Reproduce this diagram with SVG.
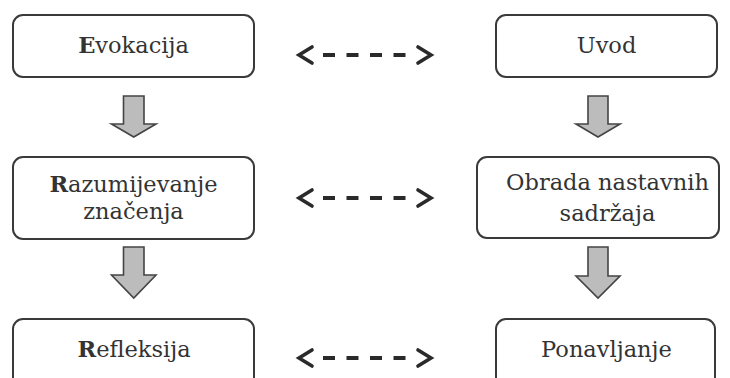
<svg xmlns="http://www.w3.org/2000/svg" width="730" height="378" viewBox="0 0 730 378">
<defs>
<style>
.box{fill:#fff;stroke:#3a3a3a;stroke-width:2}
.down{fill:#bcbcbc;stroke:#444;stroke-width:1.6;stroke-linejoin:miter}
.dash{stroke:#2a2a2a;stroke-width:4;stroke-dasharray:12 11.5;fill:none}
.chev{stroke:#2a2a2a;stroke-width:3.6;fill:none;stroke-linecap:round;stroke-linejoin:miter}
</style>
</defs>
<rect width="730" height="378" fill="#fff"/>
<g font-family="DejaVu Serif, Liberation Serif, serif" font-size="22.5" fill="#333" text-anchor="middle">
<g id="evokacija"><rect class="box" x="13" y="15" width="241" height="62" rx="10"/><text x="133.5" y="53"><tspan font-weight="bold">E</tspan>vokacija</text></g>
<g id="razumijevanje"><rect class="box" x="13" y="157" width="241" height="82" rx="10"/><text x="133.5" y="192"><tspan font-weight="bold">R</tspan>azumijevanje</text><text x="133.5" y="219">značenja</text></g>
<g id="refleksija"><rect class="box" x="13" y="319" width="241" height="70" rx="10"/><text x="134" y="357"><tspan font-weight="bold">R</tspan>efleksija</text></g>
<g id="uvod"><rect class="box" x="496" y="15" width="221" height="62" rx="10"/><text x="606.5" y="53">Uvod</text></g>
<g id="obrada"><rect class="box" x="477" y="157" width="242" height="81" rx="10"/><text x="607.5" y="190">Obrada nastavnih</text><text x="607.5" y="221">sadržaja</text></g>
<g id="ponavljanje"><rect class="box" x="496" y="319" width="219" height="70" rx="10"/><text x="606.5" y="357">Ponavljanje</text></g>
</g>
<g id="connectors">
<path class="down" d="M123.5,96 H144 V124 H156 L133.75,137 L111.5,124 H123.5 Z"/>
<path class="down" d="M123.5,247 H144 V275 H156 L133.75,298 L111.5,275 H123.5 Z"/>
<path class="down" d="M588,96 H608 V124 H620 L598,137 L576,124 H588 Z"/>
<path class="down" d="M588,247 H608 V276 H620 L598,298 L576,276 H588 Z"/>
<g id="link1"><line class="dash" x1="323" y1="55" x2="406" y2="55"/><polyline class="chev" points="312,47 299,55 312,63"/><polyline class="chev" points="418,47 431,55 418,63"/></g>
<g id="link2"><line class="dash" x1="323" y1="198" x2="406" y2="198"/><polyline class="chev" points="312,190 299,198 312,206"/><polyline class="chev" points="418,190 431,198 418,206"/></g>
<g id="link3"><line class="dash" x1="323" y1="358" x2="406" y2="358"/><polyline class="chev" points="312,350 299,358 312,366"/><polyline class="chev" points="418,350 431,358 418,366"/></g>
</g>
</svg>
